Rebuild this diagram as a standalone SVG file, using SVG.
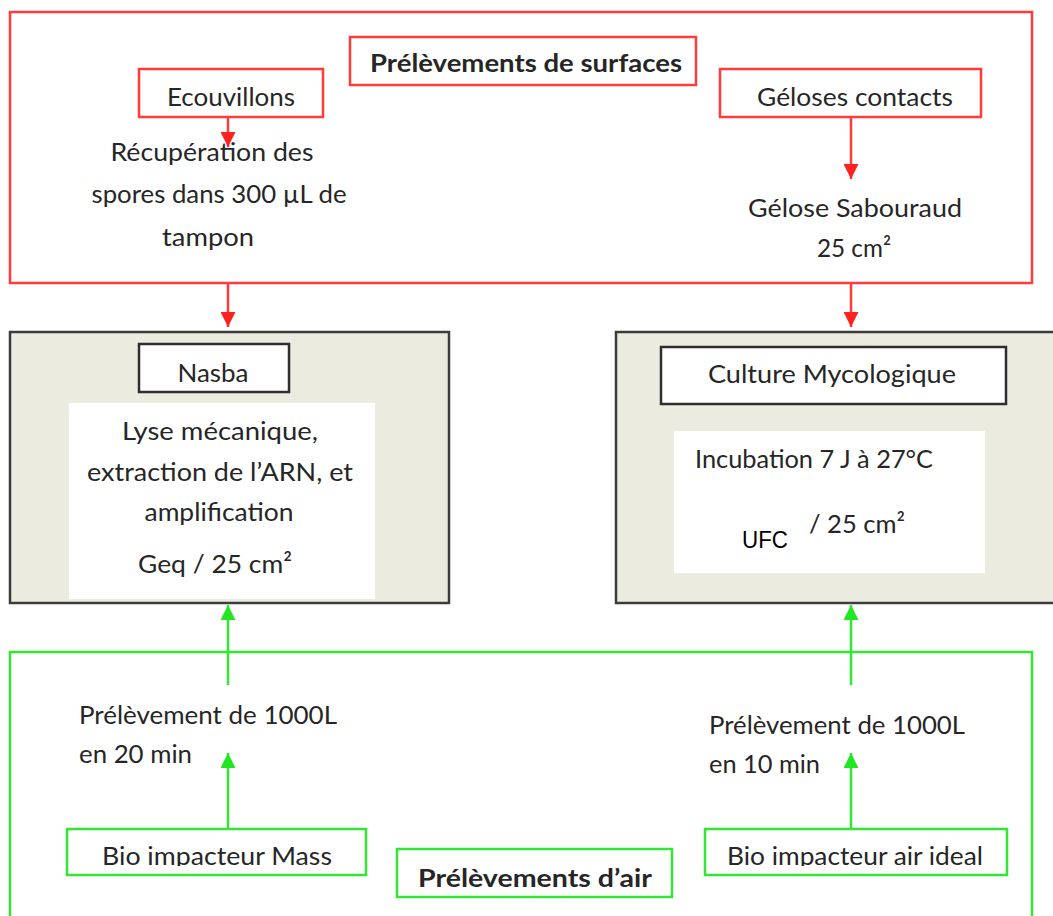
<svg xmlns="http://www.w3.org/2000/svg" width="1053" height="916" viewBox="0 0 1053 916">
<defs>
<style>
.t{font-family:Lato,"Liberation Sans",sans-serif;font-size:25.5px;fill:#262626}
.b{font-weight:bold}
.m{text-anchor:middle}
.red{fill:none;stroke:#ff3b3b;stroke-width:2.5}
.redw{fill:#fff;stroke:#ff3b3b;stroke-width:2.5}
.grn{fill:none;stroke:#33e633;stroke-width:2.5}
.grnw{fill:#fff;stroke:#33e633;stroke-width:2.5}
.grey{fill:#ecebe0;stroke:#3c3c3c;stroke-width:2.5}
.blk{fill:#fff;stroke:#2e2e2e;stroke-width:2.5}
.cr{stroke:#ff3b3b;stroke-width:2.5;fill:none}
.cg{stroke:#33e633;stroke-width:2.5;fill:none}
</style>
<marker id="ar" viewBox="0 0 10 10" refX="10" refY="5" markerWidth="6" markerHeight="6" orient="auto" markerUnits="strokeWidth"><path d="M0,0 L10,5 L0,10 z" fill="#ff2020"/></marker>
<marker id="ag" viewBox="0 0 10 10" refX="10" refY="5" markerWidth="6" markerHeight="6" orient="auto" markerUnits="strokeWidth"><path d="M0,0 L10,5 L0,10 z" fill="#22e622"/></marker>
<clipPath id="c1"><rect x="60" y="829" width="320" height="37"/></clipPath>
<clipPath id="c2"><rect x="700" y="829" width="320" height="37"/></clipPath>
</defs>
<rect width="1053" height="916" fill="#fff"/>

<g id="surfaces">
<rect class="red" x="10" y="12" width="1022" height="271"/>
<rect class="redw" x="350" y="37" width="346" height="48"/>
<text class="t b m" x="526" y="72" textLength="312" lengthAdjust="spacingAndGlyphs">Prélèvements de surfaces</text>
</g>

<g id="ecouvillons">
<rect class="redw" x="139" y="69" width="184" height="48"/>
<text class="t m" x="231" y="106" textLength="128" lengthAdjust="spacingAndGlyphs">Ecouvillons</text>
</g>

<g id="recuperation">
<text class="t m" x="212" y="161" textLength="203" lengthAdjust="spacingAndGlyphs">Récupération des</text>
<text class="t m" x="219" y="203" textLength="255" lengthAdjust="spacingAndGlyphs">spores dans 300 µL de</text>
<text class="t m" x="208" y="246" textLength="92" lengthAdjust="spacingAndGlyphs">tampon</text>
</g>

<g id="geloses">
<rect class="redw" x="720" y="69" width="261" height="48"/>
<text class="t m" x="855" y="106" textLength="196" lengthAdjust="spacingAndGlyphs">Géloses contacts</text>
</g>

<g id="sabouraud">
<text class="t m" x="855" y="217" textLength="214" lengthAdjust="spacingAndGlyphs">Gélose Sabouraud</text>
<text class="t m" x="854" y="257" textLength="74" lengthAdjust="spacingAndGlyphs">25 cm²</text>
</g>

<g id="nasba">
<rect class="grey" x="10" y="332" width="439" height="271"/>
<rect x="69" y="403" width="306" height="196" fill="#fff"/>
<rect class="blk" x="139" y="344" width="150" height="48"/>
<text class="t m" x="213" y="382" textLength="71" lengthAdjust="spacingAndGlyphs">Nasba</text>
<text class="t m" x="220" y="440" textLength="196" lengthAdjust="spacingAndGlyphs">Lyse mécanique,</text>
<text class="t m" x="220" y="481" textLength="266" lengthAdjust="spacingAndGlyphs">extraction de l’ARN, et</text>
<text class="t m" x="219" y="521" textLength="149" lengthAdjust="spacingAndGlyphs">amplification</text>
<text class="t m" x="215" y="573" textLength="154" lengthAdjust="spacingAndGlyphs">Geq / 25 cm²</text>
</g>

<g id="culture">
<rect class="grey" x="616" y="332" width="450" height="271"/>
<rect x="674" y="431" width="311" height="142" fill="#fff"/>
<rect class="blk" x="661" y="347" width="345" height="57"/>
<text class="t m" x="832" y="383" textLength="248" lengthAdjust="spacingAndGlyphs">Culture Mycologique</text>
<text class="t" x="695" y="468" textLength="238" lengthAdjust="spacingAndGlyphs">Incubation 7 J à 27°C</text>
<text x="742" y="548" font-family="Liberation Sans, Arial, sans-serif" font-size="23" fill="#000" textLength="46" lengthAdjust="spacingAndGlyphs">UFC</text>
<text class="t" x="809" y="533" textLength="96" lengthAdjust="spacingAndGlyphs">/ 25 cm²</text>
</g>

<g id="air">
<rect class="grn" x="10" y="652" width="1022" height="280"/>
<rect class="grnw" x="397" y="849" width="275" height="48"/>
<text class="t b m" x="535" y="887" textLength="234" lengthAdjust="spacingAndGlyphs">Prélèvements d’air</text>
</g>

<g id="prelev20">
<text class="t" x="79" y="724" textLength="258" lengthAdjust="spacingAndGlyphs">Prélèvement de 1000L</text>
<text class="t" x="79" y="763" textLength="113" lengthAdjust="spacingAndGlyphs">en 20 min</text>
</g>

<g id="prelev10">
<text class="t" x="709" y="734" textLength="256" lengthAdjust="spacingAndGlyphs">Prélèvement de 1000L</text>
<text class="t" x="709" y="773" textLength="111" lengthAdjust="spacingAndGlyphs">en 10 min</text>
</g>

<g id="mass">
<rect class="grnw" x="67" y="829" width="299" height="46"/>
<text class="t m" x="217" y="865" clip-path="url(#c1)" textLength="230" lengthAdjust="spacingAndGlyphs">Bio impacteur Mass</text>
</g>

<g id="ideal">
<rect class="grnw" x="705" y="829" width="302" height="46"/>
<text class="t m" x="855" y="865" clip-path="url(#c2)" textLength="256" lengthAdjust="spacingAndGlyphs">Bio impacteur air ideal</text>
</g>

<g id="connectors">
<line class="cr" x1="228" y1="117" x2="228" y2="147" marker-end="url(#ar)"/>
<line class="cr" x1="851" y1="117" x2="851" y2="179" marker-end="url(#ar)"/>
<line class="cr" x1="228" y1="283" x2="228" y2="327" marker-end="url(#ar)"/>
<line class="cr" x1="851" y1="283" x2="851" y2="327" marker-end="url(#ar)"/>
<line class="cg" x1="228" y1="685" x2="228" y2="605" marker-end="url(#ag)"/>
<line class="cg" x1="851" y1="685" x2="851" y2="605" marker-end="url(#ag)"/>
<line class="cg" x1="228" y1="829" x2="228" y2="753" marker-end="url(#ag)"/>
<line class="cg" x1="851" y1="829" x2="851" y2="753" marker-end="url(#ag)"/>
</g>
</svg>
